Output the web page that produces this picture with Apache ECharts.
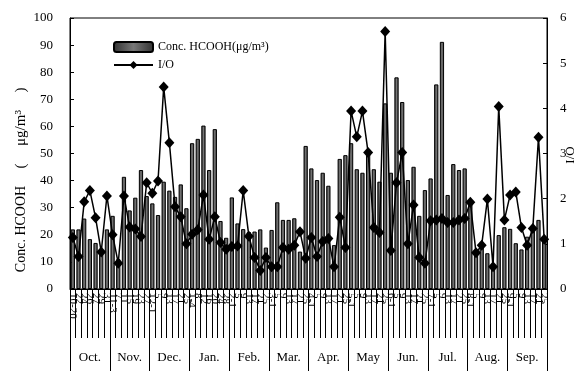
<!DOCTYPE html>
<html>
<head>
<meta charset="utf-8">
<script src="https://cdn.jsdelivr.net/npm/echarts@6/dist/echarts.min.js"></script>
<style>
  html, body { margin: 0; padding: 0; background: #fff; }
  #chart { width: 579px; height: 371px; }
</style>
</head>
<body>
<div id="chart"></div>
<script>
const months = ["Oct.", "Nov.", "Dec.", "Jan.", "Feb.", "Mar.", "Apr.", "May", "Jun.", "Jul.", "Aug.", "Sep."];

// sampling dates, 7 per month (first label of each month carries the month)
const dates = [
  "10-20", "22", "24", "26", "27", "29", "31",
  "11-3", "7", "11", "15", "19", "23", "27",
  "12-1", "5", "9", "13", "17", "21", "25",
  "1-4", "8", "12", "16", "20", "24", "28",
  "2-1", "5", "9", "13", "17", "21", "25",
  "3-1", "5", "9", "13", "17", "21", "25",
  "4-1", "5", "9", "13", "17", "21", "25",
  "5-1", "5", "9", "13", "17", "21", "25",
  "6-1", "5", "9", "13", "17", "21", "25",
  "7-1", "5", "9", "13", "17", "21", "25",
  "8-1", "5", "9", "13", "17", "21", "25",
  "9-1", "5", "9", "13", "17", "21", "25",
];

// HCOOH concentration, ug/m3
const concValues = [
  22, 22, 26, 18.4, 17, 13, 22,
  27, 11, 41.4, 29, 33.7, 43.9, 34.3,
  31.6, 27.3, 39.6, 36.3, 34, 38.6, 29.8,
  53.8, 55.4, 60.3, 43.9, 59, 25.1, 18.9,
  33.8, 24.2, 22.1, 21, 21.2, 22, 15.3,
  21.8, 32, 25.5, 25.5, 26.1, 13.8, 52.8,
  44.5, 40.2, 42.9, 38.1, 16.2, 48, 49.4,
  53.8, 44.2, 42.9, 50, 44.2, 39.6, 68.5,
  42.9, 78.1, 69, 40.2, 45.1, 27, 36.5,
  40.8, 75.5, 91.2, 34.7, 46.1, 43.9, 44.5,
  32.2, 14.4, 16.2, 13.2, 8.5, 19.9, 22.8,
  22.2, 16.9, 14.6, 19.3, 22.4, 25.5, 18.7,
];

// indoor / outdoor ratio
const ioValues = [
  1.14, 0.72, 1.93, 2.18, 1.58, 0.82, 2.06,
  1.2, 0.57, 2.06, 1.37, 1.33, 1.16, 2.35,
  2.12, 2.39, 4.47, 3.24, 1.82, 1.6, 1.0,
  1.21, 1.31, 2.08, 1.1, 1.6, 1.03, 0.88,
  0.94, 0.95, 2.18, 1.17, 0.7, 0.41, 0.7,
  0.49, 0.49, 0.92, 0.88, 0.97, 1.27, 0.68,
  1.14, 0.72, 1.05, 1.12, 0.49, 1.59, 0.92,
  3.94, 3.37, 3.94, 3.02, 1.36, 1.25, 5.7,
  0.85, 2.35, 3.02, 1.0, 1.86, 0.7, 0.57,
  1.51, 1.53, 1.56, 1.47, 1.47, 1.53, 1.56,
  1.92, 0.8, 0.97, 1.99, 0.49, 4.04, 1.53,
  2.08, 2.15, 1.36, 0.97, 1.34, 3.36, 1.1,
];

const leftTicks = { min: 0, max: 100, interval: 10 };
const rightTicks = { min: 0, max: 6, interval: 1 };

const serif = "'Liberation Serif', 'Times New Roman', serif";
const black = "#000";

const chart = echarts.init(document.getElementById("chart"), null, { renderer: "canvas" });

const barFill = new echarts.graphic.LinearGradient(0, 0, 1, 0, [
  { offset: 0, color: "#303030" },
  { offset: 0.5, color: "#777" },
  { offset: 1, color: "#303030" },
]);

// vertical axis titles, drawn as rotated text
function vText(text, x, y, size) {
  return {
    type: "text",
    x, y,
    rotation: Math.PI / 2,
    style: {
      text,
      font: size + "px " + serif,
      fill: black,
      align: "center",
      verticalAlign: "middle",
    },
  };
}

const option = {
  animation: false,
  backgroundColor: "#fff",
  textStyle: { fontFamily: serif, color: black },
  grid: {
    left: 70, right: 32, top: 18, bottom: 82,
    outerBoundsMode: "none",
    containLabel: false,
    show: true, borderColor: black, borderWidth: 1,
  },
  legend: {
    orient: "vertical",
    left: 108,
    top: 35,
    itemWidth: 39,
    itemHeight: 10,
    itemGap: 4,
    textStyle: { fontFamily: serif, fontSize: 12, color: black, lineHeight: 14 },
    data: ["Conc. HCOOH(μg/m³)", "I/O"],
  },
  xAxis: [
    {
      type: "category",
      data: dates,
      position: "bottom",
      axisLine: { lineStyle: { color: black, width: 1 } },
      axisTick: { show: true, length: 49, interval: 0, lineStyle: { color: black } },
      axisLabel: {
        interval: 0,
        rotate: -90,
        margin: 4,
        fontSize: 11,
        fontFamily: serif,
        color: black,
      },
      splitLine: { show: false },
    },
    {
      type: "category",
      data: months,
      position: "bottom",
      axisLine: { show: false },
      axisTick: { show: true, length: 82, interval: 0, lineStyle: { color: black } },
      axisLabel: {
        interval: 0,
        margin: 62,
        fontSize: 13,
        fontFamily: serif,
        color: black,
      },
      splitLine: { show: false },
    },
  ],
  yAxis: [
    {
      type: "value",
      ...leftTicks,
      position: "left",
      axisLine: { show: true, lineStyle: { color: black } },
      axisTick: { show: true, inside: true, length: 4, lineStyle: { color: black } },
      axisLabel: { margin: 17, fontSize: 13, fontFamily: serif, color: black },
      splitLine: { show: false },
    },
    {
      type: "value",
      ...rightTicks,
      position: "right",
      axisLine: { show: true, lineStyle: { color: black } },
      axisTick: { show: true, inside: true, length: 4, lineStyle: { color: black } },
      axisLabel: { margin: 13, fontSize: 13, fontFamily: serif, color: black },
      splitLine: { show: false },
    },
  ],
  graphic: [
    vText("Conc. HCOOH", 21, 229, 14),
    vText("(", 21, 166, 15),
    vText("μg/m³", 21, 128, 15),
    vText(")", 21, 90, 15),
    vText("I/O", 571, 155, 13),
  ],
  series: [
    {
      name: "Conc. HCOOH(μg/m³)",
      type: "bar",
      xAxisIndex: 0,
      yAxisIndex: 0,
      data: concValues,
      barCategoryGap: "25%",
      itemStyle: { color: barFill, borderColor: black, borderWidth: 1 },
    },
    {
      name: "I/O",
      type: "line",
      xAxisIndex: 0,
      yAxisIndex: 1,
      data: ioValues,
      symbol: "diamond",
      symbolSize: [10, 11],
      lineStyle: { color: black, width: 1.5 },
      itemStyle: { color: black },
      z: 5,
    },
  ],
};

chart.setOption(option);
</script>
</body>
</html>
